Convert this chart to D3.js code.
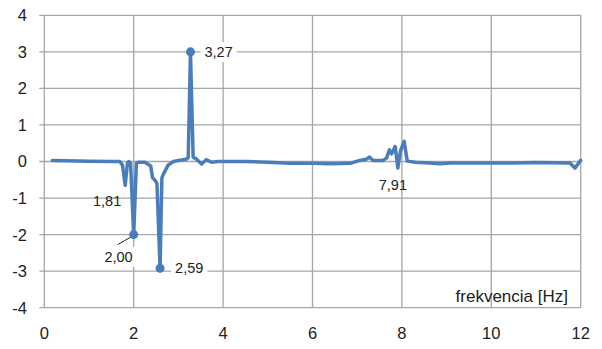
<!DOCTYPE html>
<meta charset="utf-8">
<script src="https://d3js.org/d3.v7.min.js"></script>
<style>
  body { margin: 0; background: #fff; }
  text { font-family: "Liberation Sans", Arial, sans-serif; fill: #222; }
</style>
<svg id="chart" width="602" height="349"></svg>
<script>

// frequency [Hz] and amplitude
var freq = [0.18, 0.5, 1.0, 1.5, 1.69, 1.75, 1.81, 1.86, 1.89, 1.93, 2.00, 2.06, 2.1, 2.25, 2.33, 2.38,
            2.42, 2.48, 2.52, 2.59, 2.63, 2.67, 2.77, 2.89, 3.0, 3.07, 3.17, 3.22, 3.27, 3.33, 3.4,
            3.52, 3.62, 3.74, 3.89, 4.5, 5.0, 5.5, 6.0, 6.4, 6.84, 7.06, 7.2, 7.28, 7.35, 7.58, 7.66,
            7.72, 7.77, 7.85, 7.91, 7.97, 8.05, 8.12, 8.3, 8.63, 8.85, 9.08, 9.75, 10.5, 11.0, 11.76,
            11.87, 12.0];
var ampl = [0.03, 0.02, 0.01, 0.0, 0.0, -0.1, -0.65, -0.05, 0.0, -0.05, -2.0, -0.05, -0.02, -0.02, -0.08, -0.12,
            -0.44, -0.52, -0.6, -2.92, -0.45, -0.33, -0.1, 0.0, 0.03, 0.04, 0.06, 0.1, 3.0, 0.12, 0.07,
            -0.07, 0.05, -0.02, 0.0, 0.0, -0.02, -0.05, -0.05, -0.06, -0.05, 0.03, 0.06, 0.12, 0.03, 0.03, 0.1,
            0.32, 0.21, 0.41, -0.18, 0.3, 0.55, 0.01, -0.02, -0.04, -0.06, -0.04, -0.04, -0.04, -0.03, -0.04,
            -0.18, 0.03];

// labelled points
var labelFreq = [1.81, 2.00, 2.59, 3.27, 7.91];
var labelAmpl = [-0.65, -2.0, -2.92, 3.0, -0.18];
var markerFreq = [2.00, 2.59, 3.27];

var xTicks = [0, 2, 4, 6, 8, 10, 12];
var yTicks = [-4, -3, -2, -1, 0, 1, 2, 3, 4];
var xTitle = "frekvencia [Hz]";

var svg = d3.select("#chart");
var blue = "#4a7ebb", grid = "#a6a6a6";

var x = d3.scaleLinear().domain([0, 12]).range([44.3, 580.7]);
var y = d3.scaleLinear().domain([-4, 4]).range([307.7, 15.3]);

var fmt = function(v) { return v.toFixed(2).replace(".", ","); };

// gridlines
svg.append("g").selectAll("line").data(yTicks).enter().append("line")
  .attr("x1", x(0) - 5).attr("x2", x(12))
  .attr("y1", d => y(d)).attr("y2", d => y(d))
  .attr("stroke", grid).attr("stroke-width", 1.3);
svg.append("g").selectAll("line").data(xTicks).enter().append("line")
  .attr("x1", d => x(d)).attr("x2", d => x(d))
  .attr("y1", y(4)).attr("y2", y(-4))
  .attr("stroke", grid).attr("stroke-width", 1.3);

// tick labels
svg.append("g").selectAll("text").data(yTicks).enter().append("text")
  .attr("x", 27).attr("y", d => y(d)).attr("dy", "0.36em")
  .attr("text-anchor", "end").style("font-size", "16.5px")
  .text(d => d);
svg.append("g").selectAll("text").data(xTicks).enter().append("text")
  .attr("x", d => x(d)).attr("y", 338.5)
  .attr("text-anchor", "middle").style("font-size", "16.5px")
  .text(d => d);

svg.append("text")
  .attr("x", 568).attr("y", 302)
  .attr("text-anchor", "end").style("font-size", "17px")
  .text(xTitle);

// series
var pts = freq.map((f, i) => [f, ampl[i]]);
var line = d3.line().x(d => x(d[0])).y(d => y(d[1]));
svg.append("path").datum(pts)
  .attr("d", line)
  .attr("fill", "none").attr("stroke", blue)
  .attr("stroke-width", 3.5).attr("stroke-linejoin", "round").attr("stroke-linecap", "round");

// data labels: placement relative to the point
var place = {
  "1.81": { dx: -4, dy: 16, anchor: "end", box: false },
  "2": { dx: -1, dy: 22, anchor: "end", box: true, leader: true },
  "2.59": { dx: 15, dy: 0, anchor: "start", box: true },
  "3.27": { dx: 14, dy: 0, anchor: "start", box: true },
  "7.91": { dx: -5, dy: 17, anchor: "middle", box: false }
};

var lbl = svg.append("g");
labelFreq.forEach(function(f, i) {
  var p = place[String(f)];
  var px = x(f), py = y(labelAmpl[i]);
  var g = lbl.append("g");
  var t = g.append("text")
    .attr("x", px + p.dx).attr("y", py + p.dy).attr("dy", "0.36em")
    .attr("text-anchor", p.anchor).style("font-size", "14.5px")
    .text(fmt(f));
  if (p.box) {
    var bb = t.node().getBBox();
    g.insert("rect", "text")
      .attr("x", bb.x - 4).attr("y", bb.y - 2)
      .attr("width", bb.width + 8).attr("height", bb.height + 4)
      .attr("fill", "#fff");
  }
  if (p.leader) {
    lbl.append("line")
      .attr("x1", px - 16).attr("y1", py + 10)
      .attr("x2", px - 2).attr("y2", py + 2)
      .attr("stroke", "#222").attr("stroke-width", 1);
  }
});

// markers
svg.append("g").selectAll("circle").data(markerFreq).enter().append("circle")
  .attr("cx", d => x(d))
  .attr("cy", d => y(labelAmpl[labelFreq.indexOf(d)]))
  .attr("r", 4.5).attr("fill", blue);

</script>
